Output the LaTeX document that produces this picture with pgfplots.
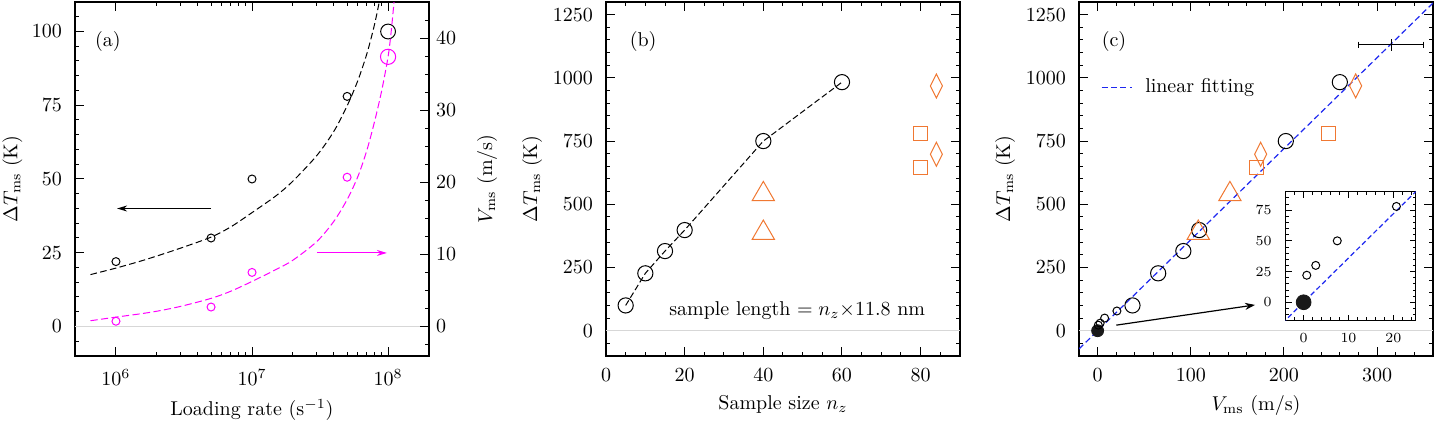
\documentclass[border=0pt]{standalone}
\usepackage{pgfplots}
\pgfplotsset{compat=1.18}
\usetikzlibrary{arrows.meta}

\definecolor{orng}{RGB}{240,120,50}
\definecolor{mgnt}{RGB}{255,0,255}
\definecolor{fitblue}{RGB}{30,40,240}
\definecolor{zeroline}{RGB}{215,215,215}

% fitted dT_ms(loading rate)
\pgfplotstableread{
r       T
6.5e5   17.6
1e6     19.8
1.5e6   22.1
2e6     23.9
3e6     26.6
5e6     30.3
7e6     33.8
1e7     38.6
1.5e7   44.3
2e7     49.3
3e7     58.0
4e7     66.2
5e7     74.8
6e7     83.4
7e7     92.6
8e7     102.9
9e7     114.4
}\fitT

% fitted V_ms(loading rate)
\pgfplotstableread{
r       V
6.5e5   0.8
1e6     1.3
1.5e6   1.75
2e6     2.12
3e6     2.8
5e6     3.9
7e6     4.9
1e7     6.25
1.5e7   7.9
2e7     9.2
3e7     11.8
4e7     14.6
5e7     17.6
6e7     20.8
7e7     24.5
8e7     28.6
9e7     32.8
1e8     37.4
1.05e8  40.6
1.1e8   44.5
1.13e8  47.0
}\fitV

\pgfplotsset{
  panel/.style={
    scale only axis, width=177pt, height=177pt,
    anchor=south west,
    axis line style={line width=0.6pt},
    every tick/.style={black, line width=0.5pt},
    major tick length=4.5pt, minor tick length=2.2pt,
    tick align=inside,
    /pgf/number format/1000 sep={},
    xticklabel style={yshift=-3pt},
    yticklabel style={xshift=-3pt},
  },
  zero/.style={zeroline, line width=0.6pt},
  smallo/.style={only marks, mark=o, mark size=2pt, line width=0.5pt},
  bigo/.style={only marks, mark=o, mark size=3.8pt, line width=0.5pt},
  ylab/.style={every axis y label/.style={at={(axis description cs:#1,0.5)}, anchor=center, rotate=90}},
}

\begin{document}
\begin{tikzpicture}
\useasboundingbox (0,0) rectangle (718pt,211.5pt);

% ---------- (a) temperature rise vs loading rate ----------
\begin{axis}[panel, at={(37.5pt,33.5pt)},
  xmode=log, xmin=5e5, xmax=2e8,
  xtick={1e6,1e7,1e8},
  ymin=-10, ymax=110,
  ytick={0,25,50,75,100}, minor ytick={-5,0,...,105},
  ytick pos=left,
  xlabel={Loading rate (s$^{-1}$)},
  ylab=-0.177,
  ylabel={$\Delta T_{\mathrm{ms}}$ (K)},
]
\addplot[zero] coordinates {(5e5,0) (2e8,0)};
\addplot[black, line width=0.5pt, dash pattern=on 3.3pt off 1.7pt, smooth] table[x=r, y=T] {\fitT};
\addplot[smallo, black] coordinates {(1e6,22) (5e6,30) (1e7,50) (5e7,78)};
\addplot[bigo, black, mark size=3.7pt] coordinates {(1e8,100)};
\addplot[black, line width=0.5pt, -{Stealth[length=5pt,width=3pt]}] coordinates {(5e6,40) (1.02e6,40)};
\node at (rel axis cs:0.093,0.888) {(a)};
\end{axis}

\begin{axis}[panel, at={(37.5pt,33.5pt)},
  xmode=log, xmin=5e5, xmax=2e8,
  axis x line=none, axis y line*=right,
  ymin=-4.0909, ymax=45,
  ytick={0,10,20,30,40}, minor ytick={-2.5,0,...,45},
  yticklabel style={xshift=3pt},
  ylab=1.164,
  ylabel={$V_{\mathrm{ms}}$ (m/s)},
]
\addplot[mgnt, line width=0.5pt, dash pattern=on 3.6pt off 1.7pt, smooth] table[x=r, y=V] {\fitV};
\addplot[smallo, mgnt] coordinates {(1e6,0.73) (5e6,2.7) (1e7,7.5) (5e7,20.7)};
\addplot[bigo, mgnt] coordinates {(1e8,37.4)};
\addplot[mgnt, line width=0.5pt, -{Stealth[length=5pt,width=3pt]}] coordinates {(3e7,10.2) (9.8e7,10.2)};
\end{axis}

% ---------- (b) temperature rise vs sample size ----------
\begin{axis}[panel, at={(303pt,33.5pt)},
  xmin=0, xmax=90, ymin=-100, ymax=1300,
  xtick={0,20,...,80}, minor xtick={0,5,...,90},
  ytick={0,250,...,1250}, minor ytick={-50,0,...,1300},
  xlabel={Sample size $n_z$},
  ylab=-0.209,
  ylabel={$\Delta T_{\mathrm{ms}}$ (K)},
]
\addplot[zero] coordinates {(0,0) (90,0)};
\addplot[black, line width=0.5pt, dash pattern=on 3pt off 1.5pt, mark=o, mark size=3.8pt, mark options={solid}]
  coordinates {(5,100) (10,227) (15,315) (20,398) (40,750) (60,983)};
\addplot[orng, only marks, mark=triangle, mark size=6.4pt, line width=0.5pt] coordinates {(40,387) (40,540)};
\addplot[orng, only marks, mark=square, mark size=3.5pt, line width=0.5pt] coordinates {(80,647) (80,781)};
\addplot[orng, only marks, mark=diamond, mark size=6pt, line width=0.5pt, mark options={xscale=0.67}] coordinates {(84,698) (84,968)};
\node[anchor=base] at (axis cs:48.6,62) {sample length $= n_z{\times}11.8$ nm};
\node at (rel axis cs:0.105,0.888) {(b)};
\end{axis}

% ---------- (c) temperature rise vs velocity ----------
\begin{axis}[panel, at={(539.5pt,33.5pt)},
  xmin=-20, xmax=360, ymin=-100, ymax=1300,
  xtick={0,100,200,300}, minor xtick={-20,0,...,360},
  ytick={0,250,...,1250}, minor ytick={-50,0,...,1300},
  xlabel={$V_{\mathrm{ms}}$ (m/s)},
  ylab=-0.209,
  ylabel={$\Delta T_{\mathrm{ms}}$ (K)},
]
\addplot[zero] coordinates {(-20,0) (360,0)};
\addplot[fitblue, line width=0.6pt, dash pattern=on 3pt off 1.7pt] coordinates {(-20,-72) (360,1296)};
\addplot[only marks, mark=*, mark size=3pt, color=black!90] coordinates {(0,0)};
\addplot[smallo, black] coordinates {(0.7,22) (2.7,30) (7.5,50) (20.7,78)};
\addplot[bigo, black] coordinates {(37.4,100) (65,227) (92,315) (109,398) (202,750) (260,983)};
\addplot[orng, only marks, mark=triangle, mark size=6.4pt, line width=0.5pt] coordinates {(108,387) (142,540)};
\addplot[orng, only marks, mark=square, mark size=3.5pt, line width=0.5pt] coordinates {(170,647) (248,781)};
\addplot[orng, only marks, mark=diamond, mark size=6pt, line width=0.5pt, mark options={xscale=0.67}] coordinates {(175,698) (277,968)};
% typical uncertainty of V_ms
\addplot[black, line width=0.5pt, mark=|, mark size=1.7pt] coordinates {(280,1130) (350,1130)};
\addplot[black, line width=0.5pt, only marks, mark=|, mark size=2.8pt] coordinates {(315,1130)};
\addplot[black, line width=0.6pt, -{Stealth[length=5pt,width=3.5pt]}] coordinates {(20,22) (169,102)};
% key for the fitted line
\draw[fitblue, line width=0.7pt, dash pattern=on 3pt off 1.7pt]
  (rel axis cs:0.064,0.758) -- (rel axis cs:0.149,0.758);
\node[anchor=west, inner sep=0pt] at (rel axis cs:0.186,0.758) {linear fitting};
\node at (rel axis cs:0.099,0.888) {(c)};
\end{axis}

% inset: zoom near the origin
\begin{axis}[at={(642.85pt,51.15pt)}, anchor=south west,
  scale only axis, width=65pt, height=64.5pt,
  axis background/.style={fill=white},
  axis line style={line width=0.6pt},
  every tick/.style={black, line width=0.4pt},
  major tick length=3pt, minor tick length=1.6pt,
  tick align=inside,
  xmin=-4, xmax=25, ymin=-15, ymax=90,
  xtick={0,10,20}, minor xtick={-4,-2,...,24},
  ytick={0,25,50,75}, minor ytick={-15,-10,...,90},
  tick label style={font=\fontsize{7.2}{8.6}\selectfont},
  xticklabel style={yshift=-3pt}, yticklabel style={xshift=-3.5pt},
]
\addplot[fitblue, line width=0.6pt, dash pattern=on 2.5pt off 1.5pt] coordinates {(-20,-72) (360,1296)};
\addplot[only marks, mark=*, mark size=3.7pt, color=black!90] coordinates {(0,0)};
\addplot[smallo, black] coordinates {(0.7,22) (2.7,30) (7.5,50) (20.7,78)};
\end{axis}
\end{tikzpicture}
\end{document}
